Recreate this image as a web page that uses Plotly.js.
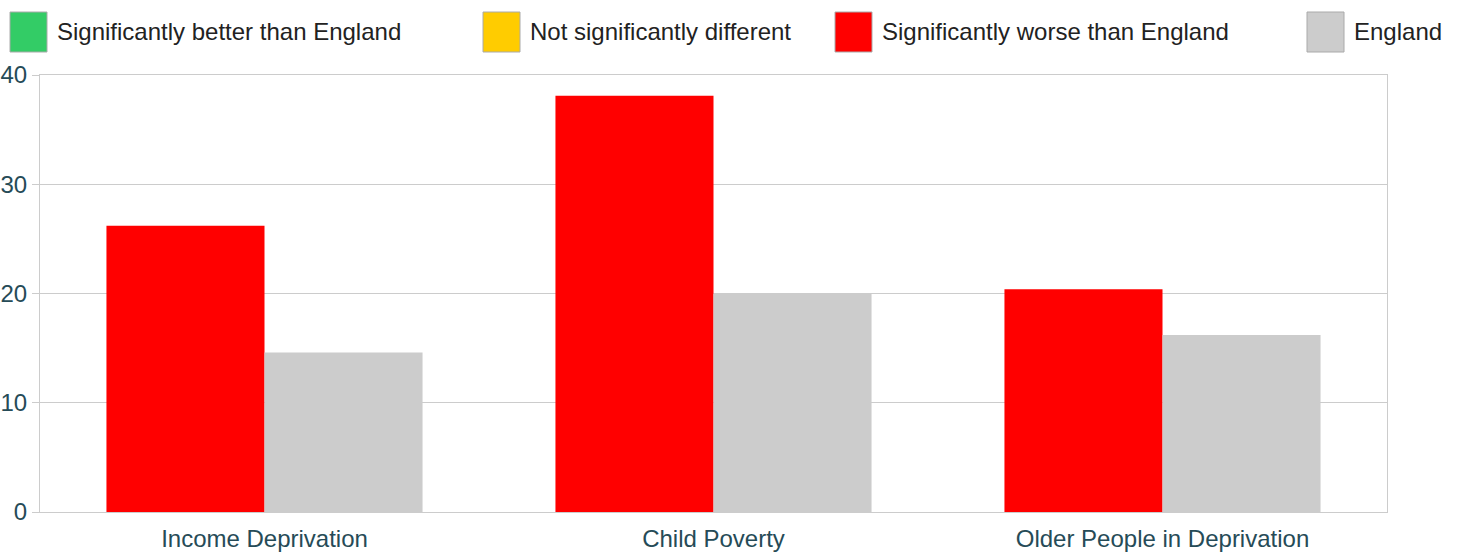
<!DOCTYPE html>
<html>
<head>
<meta charset="utf-8">
<script src="https://cdn.plot.ly/plotly-3.0.1.min.js"></script>
<style>
html,body{margin:0;padding:0;background:#fff;}
#chart{width:1459px;height:552px;}
</style>
</head>
<body>
<div id="chart"></div>
<script>
const categories = ["Income Deprivation", "Child Poverty", "Older People in Deprivation"];
const areaValues = [26.2, 38.1, 20.4];
const areaSignificance = ["worse", "worse", "worse"];
const englandValues = [14.6, 20.0, 16.2];
const legendLabels = ["Significantly better than England", "Not significantly different", "Significantly worse than England", "England"];
const legendColors = ["#33cc66", "#ffcc00", "#ff0000", "#cccccc"];
const significanceColors = {better: "#33cc66", similar: "#ffcc00", worse: "#ff0000"};
const yTicks = [0, 10, 20, 30, 40];

const FONT = "Liberation Sans, Arial, sans-serif";

const traces = [
  {
    type: "bar",
    name: "Area",
    x: categories,
    y: areaValues,
    marker: {color: areaSignificance.map(s => significanceColors[s]), line: {width: 0}},
    hoverinfo: "x+y",
    showlegend: false
  },
  {
    type: "bar",
    name: "England",
    x: categories,
    y: englandValues,
    marker: {color: "#cccccc", line: {width: 0}},
    hoverinfo: "x+y",
    showlegend: false
  }
];

// Legend drawn as boxes + labels
const legendBoxX = [10, 483, 835, 1307];
const shapes = [];
const annotations = [];
const W = 1459, H = 552;
const ml = 40, mr = 72, mt = 75, mb = 40;
const pw = W - ml - mr, ph = H - mt - mb;
function px2x(px){ return (px - ml) / pw; }
function py2y(py){ return 1 - (py - mt) / ph; }
legendLabels.forEach((lab, i) => {
  const x0 = legendBoxX[i];
  shapes.push({
    type: "rect", xref: "paper", yref: "paper",
    x0: px2x(x0), x1: px2x(x0 + 37), y0: py2y(52), y1: py2y(12),
    fillcolor: legendColors[i], line: {color: "#aaaaaa", width: 1}
  });
  annotations.push({
    xref: "paper", yref: "paper", x: px2x(x0 + 45), y: py2y(31),
    xanchor: "left", yanchor: "middle", showarrow: false,
    text: lab, font: {family: FONT, size: 24, color: "#222222"}
  });
});

const layout = {
  width: W, height: H,
  margin: {l: ml, r: mr, t: mt, b: mb, pad: 0},
  paper_bgcolor: "#ffffff",
  plot_bgcolor: "#ffffff",
  barmode: "group",
  bargap: 0.296,
  bargroupgap: 0,
  showlegend: false,
  font: {family: FONT, size: 24, color: "#264b57"},
  xaxis: {
    type: "category",
    showgrid: false,
    showline: true, linecolor: "#cccccc", linewidth: 1,
    mirror: true,
    ticks: "", ticklabelstandoff: 5,
    tickfont: {family: FONT, size: 24, color: "#264b57"},
    zeroline: false
  },
  yaxis: {
    range: [0, 40],
    tickvals: yTicks,
    ticktext: yTicks.map(String),
    showgrid: true, gridcolor: "#cccccc", gridwidth: 1,
    showline: true, linecolor: "#cccccc", linewidth: 1,
    mirror: true,
    ticks: "outside", ticklen: 7, tickcolor: "#cccccc",
    tickfont: {family: FONT, size: 24, color: "#264b57"},
    zeroline: true, zerolinecolor: "#999999", zerolinewidth: 1
  },
  shapes: shapes,
  annotations: annotations
};

Plotly.newPlot("chart", traces, layout, {displayModeBar: false, staticPlot: true});
</script>
</body>
</html>
